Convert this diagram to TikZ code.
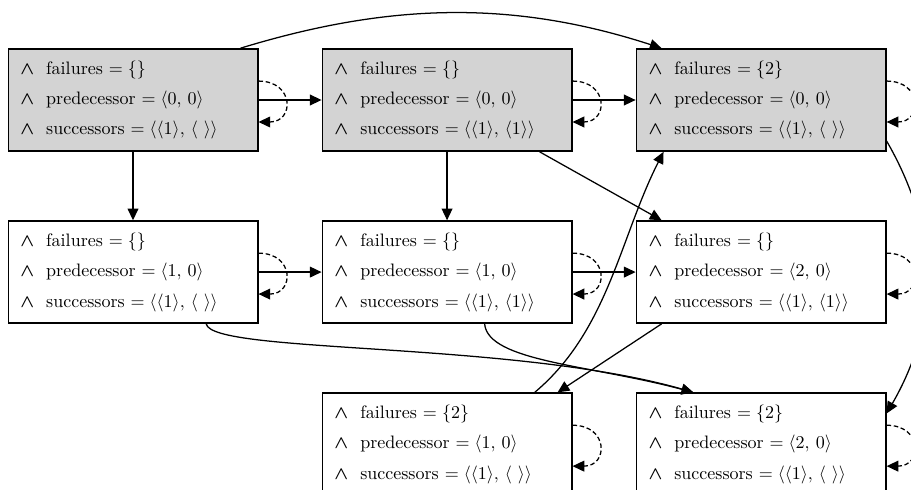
\documentclass[tikz,border=0pt]{standalone}
\usepackage{bm}
\usetikzlibrary{arrows.meta,positioning}
\definecolor{visited}{RGB}{211,211,211}
\newcommand{\stateinfo}[3]{$\bm{\wedge}$~~failures $=\{#1\}$\\[4.9pt]$\bm{\wedge}$~~predecessor $=\langle #2,\,0\rangle$\\[4.9pt]$\bm{\wedge}$~~successors $=\langle\langle 1\rangle,\,\langle #3\rangle\rangle$}

\begin{document}
\begin{tikzpicture}[x=0.555pt, y=0.555pt, >={Triangle[length=6.5pt,width=6pt]},
  statebox/.style={draw, line width=0.9pt, minimum height=56.6pt, text width=125pt, inner xsep=6.7pt, align=left},
  seen/.style={statebox, fill=visited},
  trans/.style={->, line width=0.7pt},
  selfloop/.style={trans, dash pattern=on 2.5pt off 1.5pt},
  node distance=38pt and 35pt]
\useasboundingbox (0,0) rectangle (911,-489);
% explored states
\node[seen] (top1) at (133,-100) {\stateinfo{}{0}{\ }};
\node[seen, right=of top1] (top2) {\stateinfo{}{0}{1}};
\node[seen, right=of top2] (top3) {\stateinfo{2}{0}{\ }};
% frontier
\node[statebox, below=of top1] (mid1) {\stateinfo{}{1}{\ }};
\node[statebox, below=of top2] (mid2) {\stateinfo{}{1}{1}};
\node[statebox, below=of top3] (mid3) {\stateinfo{}{2}{1}};
\node[statebox, below=of mid2] (bot2) {\stateinfo{2}{1}{\ }};
\node[statebox, below=of mid3] (bot3) {\stateinfo{2}{2}{\ }};
% transitions
\draw[trans] (top1) -- (top2);
\draw[trans] (top2) -- (top3);
\draw[trans] (mid1) -- (mid2);
\draw[trans] (mid2) -- (mid3);
\draw[trans] (top1) -- (mid1);
\draw[trans] (top2) -- (mid2);
\draw[trans] ([xshift=-10pt]top1.north east) to[out=17,in=162,looseness=0.95] ([xshift=14.4pt]top3.north west);
\draw[trans] ([xshift=-18.3pt]top2.south east) -- ([xshift=14.4pt]mid3.north west);
\draw[trans] ([xshift=-29pt]mid1.south east) to[out=-80,in=164,out distance=17pt,in distance=104pt] ([xshift=32pt]bot3.north west);
\draw[trans] ([xshift=-48.8pt]mid2.south east) to[out=-85,in=165,out distance=21pt,in distance=59pt] ([xshift=32pt]bot3.north west);
\draw[trans] ([xshift=14.4pt]mid3.south west) -- ([xshift=-8.3pt]bot2.north east);
\draw[trans] ([xshift=-21pt]bot2.north east) to[out=40,in=-117,looseness=0.9] ([xshift=15.5pt]top3.south west);
\draw[trans] ([yshift=6pt]top3.south east) to[out=-60,in=60] ([yshift=-11.7pt]bot3.north east);
% stuttering steps
\foreach \s in {top1,top2,top3,mid1,mid2,mid3,bot2,bot3}
  \draw[selfloop] ([yshift=10.5pt]\s.east) to[out=0,in=0,distance=20pt] ([yshift=-12.2pt]\s.east);
\end{tikzpicture}
\end{document}
